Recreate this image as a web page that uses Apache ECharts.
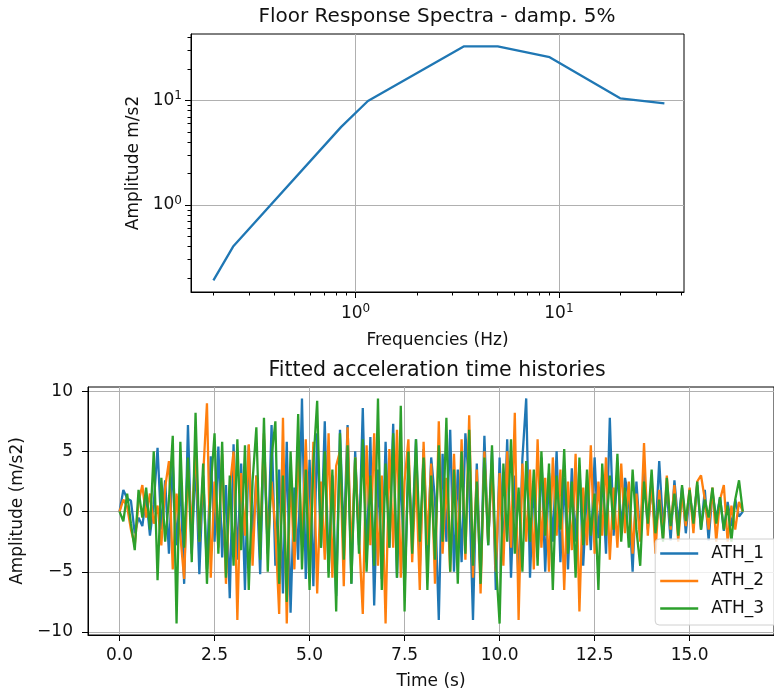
<!DOCTYPE html>
<html><head><meta charset="utf-8">
<script src="https://cdn.jsdelivr.net/npm/echarts@6/dist/echarts.min.js"></script>
<style>html,body{margin:0;padding:0;background:#fff}#c{width:774px;height:693px}</style>
</head><body><div id="c"></div>
<script>
// ---- Floor response spectrum (top) ----
const frsFreq = [0.2, 0.25, 0.85, 1.15, 3.4, 5.0, 9.0, 20.0, 33.0];
const frsAmp  = [0.19, 0.40, 5.6, 9.9, 33.0, 33.0, 26.0, 10.5, 9.4];
const frsMajorTicks = [1, 10];
const frsMinorTicks = [0.2,0.3,0.4,0.5,0.6,0.7,0.8,0.9,2,3,4,5,6,7,8,9,20,30,40];

// ---- Acceleration time histories (bottom) ----
const dt = 0.1;
const ath1 = [
 0, 1.8, 1.1, 0.9, -1.8, -0.5, -1.2, 1.3, -2.0, 0.6,
 5.3, -1.5, 2.6, -3.5, 4.0, -2.8, 2.5, -6.0, 7.2, -3.5,
 4.4, -5.2, 3.0, -4.8, 4.6, -2.5, 5.4, -3.8, 2.2, -7.2,
 5.6, -4.0, 4.0, -6.5, 5.5, -2.2, 3.0, -5.2, 6.0, -3.5,
 7.2, -4.5, 3.5, -6.8, 5.8, -8.4, 2.0, -4.0, 9.4, -5.6,
 4.3, -6.2, 6.5, -3.0, 7.5, -5.0, 3.0, -7.0, 6.8, -2.5,
 7.2, -6.0, 5.0, -2.8, 8.6, -4.2, 6.2, -7.8, 3.5, -5.6,
 5.8, -3.0, 7.3, -5.5, 4.0, -6.5, 3.8, -2.0, 6.0, -4.8,
 5.2, -3.5, 4.5, 1.0, -9.0, 4.8, -2.5, 6.8, -5.0, 3.5,
 -4.2, 6.5, 2.0, -9.0, 4.0, -5.5, 6.3, -2.8, 5.0, -6.5,
 4.5, -3.5, 6.0, -5.5, 3.0, -6.2, 4.4, 9.4, -5.5, 2.5,
 -3.8, 4.5, -5.0, 3.2, -2.5, 5.0, -4.2, 2.8, -4.8, 3.6,
 -2.5, 3.8, -4.5, 2.0, -3.2, 4.5, -2.2, 3.0, -3.5, 7.8,
 -2.0, 3.5, -1.5, 2.8, 1.0, -5.0, 2.5, -2.2, 3.4, -1.5,
 2.2, -2.0, 4.2, -1.2, 1.8, -2.4, 2.6, -1.0, 2.0, -1.8,
 1.5, -0.8, 2.2, -1.5, 1.8, -2.4, 1.6, -0.6, 1.2, -1.6,
 0.8, -1.2, 1.0, -0.4, 0.0
];
const ath2 = [
 0, 1.0, 0.4, -1.5, -2.8, 0.8, 2.2, -0.5, 1.5, -1.0,
 0.5, -2.8, 2.0, 4.2, -4.8, 1.5, -2.0, -5.6, 3.5, -1.5,
 5.5, -2.5, 3.0, 9.0, -5.5, 2.5, -3.0, 4.8, -6.0, 2.0,
 5.0, -9.0, 3.2, -2.0, 5.6, -4.5, 3.0, -2.5, 6.5, -3.2,
 2.5, -1.5, -8.5, 7.8, -9.3, 3.5, -4.8, 5.2, -2.8, 6.0,
 -3.5, 5.8, -6.8, 2.5, -4.0, 6.5, -5.5, 3.8, 5.0, -6.2,
 7.0, -3.8, 4.5, -2.0, -8.5, 5.5, -2.8, 6.5, -4.5, 3.0,
 -9.3, 5.2, -3.0, 6.8, -5.5, 2.5, 6.0, -4.2, 3.2, -6.5,
 5.8, -2.8, 4.0, -6.0, 7.5, -3.5, 2.8, -5.0, 4.8, -3.8,
 6.0, -4.0, 8.0, -5.5, 3.5, -6.8, 5.0, -2.5, 4.0, -5.0,
 3.2, -4.5, 5.0, -3.0, 8.2, -9.0, 4.0, -2.5, 3.5, -4.8,
 6.0, -3.0, 2.8, -5.0, 4.5, -2.0, 3.5, -6.5, 2.5, -3.2,
 4.8, -8.3, 2.0, -2.8, 5.5, -3.5, 2.5, -2.0, 4.5, -4.0,
 2.0, -3.0, 4.0, -1.8, 2.5, -3.5, 1.5, -2.5, 5.7, -2.0,
 2.8, -3.5, 1.8, -2.2, 3.0, -1.5, 2.2, -2.5, 1.5, -1.2,
 2.0, -1.8, 2.5, 3.0, 1.0, -1.5, 2.0, -2.5, 1.0, 2.2,
 -2.5, 0.5, -1.5, 0.8, 0.0
];
const ath3 = [
 0, -0.8, 1.5, -1.0, -3.2, 1.8, -0.5, 2.0, -1.5, 5.0,
 -5.7, 2.8, -2.5, 1.0, 6.3, -9.3, 5.8, -3.0, 4.5, -4.2,
 8.2, -2.5, 4.0, -6.0, 2.0, 6.5, -3.5, 5.8, -5.5, 3.0,
 -4.5, 6.0, -3.2, 5.5, -6.5, 2.5, 7.0, -4.0, 7.8, -5.0,
 4.5, 7.5, -6.0, 3.0, -7.5, 5.0, -2.5, 8.1, -4.8, 3.5,
 -6.5, 4.0, 9.2, -3.0, 5.0, -5.5, 3.5, -8.3, 6.5, -4.0,
 5.5, -6.0, 4.5, -3.5, 6.0, -5.0, 3.0, -4.5, 9.4, -6.5,
 4.0, -3.0, 6.5, -5.5, 8.8, -8.3, 5.0, -3.5, 6.0, -2.5,
 4.5, -6.5, 3.0, -4.0, 5.5, -2.5, 7.8, -5.0, 3.5, -6.0,
 5.0, -3.5, 6.8, -4.5, 2.5, -6.0, 4.5, -2.8, 5.5, -4.0,
 -9.3, 4.0, -2.5, 6.0, -3.5, 2.0, -5.0, 4.2, -2.5, 3.5,
 -4.5, 5.0, -2.0, 4.0, -6.5, 3.0, -1.5, 5.2, -3.5, 2.5,
 -5.5, 4.5, -2.8, 3.5, -2.0, 1.5, -6.5, 4.0, -2.0, 3.0,
 -1.5, 4.8, -2.5, 2.0, -3.0, 3.5, -1.5, -4.5, 2.5, -1.0,
 3.5, -1.8, 1.0, -2.5, 2.8, -1.2, 1.5, -2.0, 2.2, -0.8,
 1.8, -1.0, 2.5, -1.5, 1.0, -0.5, 2.0, -1.0, 1.2, -1.5,
 0.5, -2.5, 1.0, 2.6, 0.0
];
const seriesNames = ['ATH_1', 'ATH_2', 'ATH_3'];
const timeTicks = [0, 2.5, 5, 7.5, 10, 12.5, 15];
const ampTicks = [-10, -5, 0, 5, 10];

const FONT = 'DejaVu Sans';
const TXT = '#111';
const GRIDC = '#b0b0b0';
const colors = ['#1f77b4', '#ff7f0e', '#2ca02c'];

function toXY(arr) { return arr.map((v, i) => [+(i * dt).toFixed(2), v]); }
function logLabel(v) {
  const e = Math.log10(v);
  if (Math.abs(e - Math.round(e)) > 1e-6) return '';
  return '10{sup|' + Math.round(e) + '}';
}
const richSup = { sup: { fontSize: 12, fontFamily: FONT, color: TXT, verticalAlign: 'top', padding: [0, 0, 9, 0] } };
function minusFmt(v) { return v < 0 ? '\u2212' + Math.abs(v) : String(v); }

const chart = echarts.init(document.getElementById('c'), null, { renderer: 'canvas' });
const option = {
  animation: false,
  backgroundColor: '#fff',
  textStyle: { fontFamily: FONT },
  title: [
    { text: 'Floor Response Spectra - damp. 5%', left: 437, top: 7, textAlign: 'center', padding: 0,
      textStyle: { fontFamily: FONT, fontSize: 20, fontWeight: 'normal', color: TXT } },
    { text: 'Fitted acceleration time histories', left: 437, top: 360, textAlign: 'center', padding: 0,
      textStyle: { fontFamily: FONT, fontSize: 20.5, fontWeight: 'normal', color: TXT } }
  ],
  grid: [
    { left: 191, top: 34, width: 493, height: 258, show: true, borderColor: '#000', borderWidth: 1, backgroundColor: 'transparent' },
    { left: 88, top: 387, width: 698, height: 248, show: true, borderColor: '#000', borderWidth: 1, backgroundColor: 'transparent' }
  ],
  xAxis: [
    { gridIndex: 0, type: 'log', logBase: 10, min: 0.1552, max: 41.2, position: 'bottom',
      name: 'Frequencies (Hz)', nameLocation: 'middle', nameGap: 40,
      nameTextStyle: { fontFamily: FONT, fontSize: 17, color: TXT },
      axisLine: { show: true, lineStyle: { color: '#000', width: 1 } },
      axisTick: { show: true, length: 6, customValues: frsMajorTicks, lineStyle: { color: '#000' } },
      axisLabel: { customValues: frsMajorTicks, formatter: logLabel, rich: richSup, margin: 11,
        fontFamily: FONT, fontSize: 17, color: TXT },
      splitLine: { show: true, lineStyle: { color: GRIDC, width: 1 } },
      minorTick: { show: false }
    },
    { gridIndex: 0, type: 'log', logBase: 10, min: 0.1552, max: 41.2, position: 'bottom',
      axisLine: { show: false },
      axisTick: { show: true, length: 3.5, customValues: frsMinorTicks, lineStyle: { color: '#000' } },
      axisLabel: { show: false }, splitLine: { show: false }
    },
    { gridIndex: 1, type: 'value', min: -0.83, max: 17.22, position: 'bottom',
      name: 'Time (s)', nameLocation: 'middle', nameGap: 38,
      nameTextStyle: { fontFamily: FONT, fontSize: 17, color: TXT },
      axisLine: { show: true, onZero: false, lineStyle: { color: '#000', width: 1 } },
      axisTick: { show: true, length: 6, customValues: timeTicks, lineStyle: { color: '#000' } },
      axisLabel: { customValues: timeTicks, formatter: v => v.toFixed(1), margin: 12,
        fontFamily: FONT, fontSize: 17, color: TXT },
      splitLine: { show: true, lineStyle: { color: GRIDC, width: 1 } }
    }
  ],
  yAxis: [
    { gridIndex: 0, type: 'log', logBase: 10, min: 0.1469, max: 43.4, position: 'left',
      name: 'Amplitude m/s2', nameLocation: 'middle', nameGap: 48,
      nameTextStyle: { fontFamily: FONT, fontSize: 17, color: TXT },
      axisLine: { show: true, lineStyle: { color: '#000', width: 1 } },
      axisTick: { show: true, length: 6, customValues: frsMajorTicks, lineStyle: { color: '#000' } },
      axisLabel: { customValues: frsMajorTicks, formatter: logLabel, rich: richSup, margin: 9,
        fontFamily: FONT, fontSize: 17, color: TXT },
      splitLine: { show: true, lineStyle: { color: GRIDC, width: 1 } },
      minorTick: { show: false }
    },
    { gridIndex: 0, type: 'log', logBase: 10, min: 0.1469, max: 43.4, position: 'left',
      axisLine: { show: false },
      axisTick: { show: true, length: 3.5, customValues: frsMinorTicks, lineStyle: { color: '#000' } },
      axisLabel: { show: false }, splitLine: { show: false }
    },
    { gridIndex: 1, type: 'value', min: -10.25, max: 10.35, position: 'left',
      name: 'Amplitude (m/s2)', nameLocation: 'middle', nameGap: 60,
      nameTextStyle: { fontFamily: FONT, fontSize: 17, color: TXT },
      axisLine: { show: true, onZero: false, lineStyle: { color: '#000', width: 1 } },
      axisTick: { show: true, length: 6, customValues: ampTicks, lineStyle: { color: '#000' } },
      axisLabel: { customValues: ampTicks, formatter: minusFmt, margin: 15,
        fontFamily: FONT, fontSize: 17, color: TXT },
      splitLine: { show: true, lineStyle: { color: GRIDC, width: 1 } }
    }
  ],
  legend: {
    data: seriesNames,
    orient: 'vertical', right: -30, top: 539,
    icon: 'rect', itemWidth: 38, itemHeight: 2.5, itemGap: 10.5,
    padding: [6, 40, 8, 5],
    backgroundColor: 'rgba(255,255,255,0.8)', borderColor: '#d0d0d0', borderWidth: 1, borderRadius: 4,
    textStyle: { fontFamily: FONT, fontSize: 17, color: TXT, lineHeight: 17, padding: [0, 0, 0, 8] },
    selectedMode: false
  },
  series: [
    { type: 'line', name: 'FRS', xAxisIndex: 0, yAxisIndex: 0, symbol: 'none',
      data: frsFreq.map((f, i) => [f, frsAmp[i]]),
      lineStyle: { color: colors[0], width: 2.3 }, itemStyle: { color: colors[0] } },
    ...[ath1, ath2, ath3].map((arr, k) => ({
      type: 'line', name: seriesNames[k], xAxisIndex: 2, yAxisIndex: 2, symbol: 'none',
      data: toXY(arr), clip: true,
      lineStyle: { color: colors[k], width: 2.3 }, itemStyle: { color: colors[k] }
    }))
  ]
};
chart.setOption(option);
</script>
</body></html>
